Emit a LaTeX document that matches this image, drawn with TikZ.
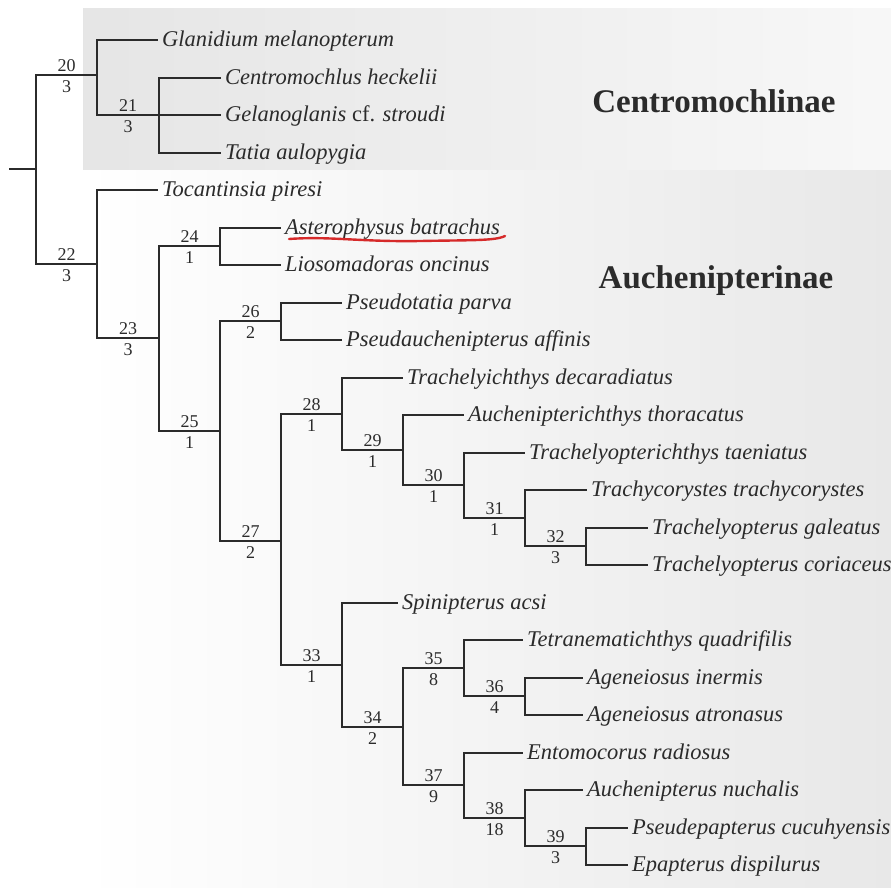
\documentclass[tikz,border=0pt]{standalone}
\usepackage{fontspec}
\setmainfont{Liberation Serif}
\usetikzlibrary{calc}
\newcommand{\tipfont}{\fontsize{22.5}{27}\selectfont\itshape}
\newcommand{\numfont}{\fontsize{18}{21}\selectfont}
\newcommand{\cladefont}{\fontsize{33}{38}\selectfont\bfseries}
\definecolor{inkgray}{HTML}{2B2B2B}
\definecolor{marker}{HTML}{D62A2A}
\tikzset{
	branch/.style={line width=2pt, draw=inkgray, line cap=rect},
	taxon/.style={anchor=west, inner xsep=5pt, inner ysep=0pt, text height=16pt, text depth=3pt, font=\tipfont, text=inkgray},
	bnum/.style={pos=0.75, above, inner sep=2.5pt, font=\numfont, text=inkgray},
	bsup/.style={pos=0.75, below, inner sep=5pt, font=\numfont, text=inkgray},
	clade/.style={anchor=base, font=\cladefont, text=inkgray}
}

\begin{document}
\begin{tikzpicture}[x=1pt, y=-1pt]
		\useasboundingbox (0,0) rectangle (891,887);
		% shaded subfamily blocks
		\shade[left color=black!10, right color=black!3] (83,8) rectangle (891,169);
		\shade[left color=white, right color=black!9] (83,170) rectangle (891,887);
		\node[clade] (centro) at (714,112) {Centromochlinae};
		\node[clade] (auchen) at (716,288) {Auchenipterinae};
		% taxa
		\node[taxon] (glan) at (157,40) {Glanidium melanopterum};
		\node[taxon] (cent) at (220,77.5) {Centromochlus heckelii};
		\node[taxon] (gela) at (220,115) {Gelanoglanis {\upshape cf.} stroudi};
		\node[taxon] (tati) at (220,152.5) {Tatia aulopygia};
		\node[taxon] (toca) at (157,190) {Tocantinsia piresi};
		\node[taxon] (aste) at (280,227.5) {Asterophysus batrachus};
		\node[taxon] (lios) at (280,265) {Liosomadoras oncinus};
		\node[taxon] (pspa) at (341,302.5) {Pseudotatia parva};
		\node[taxon] (psaf) at (341,340) {Pseudauchenipterus affinis};
		\node[taxon] (trde) at (402,377.5) {Trachelyichthys decaradiatus};
		\node[taxon] (auth) at (463,415) {Auchenipterichthys thoracatus};
		\node[taxon] (trta) at (524,452.5) {Trachelyopterichthys taeniatus};
		\node[taxon] (trtr) at (586,490) {Trachycorystes trachycorystes};
		\node[taxon] (trga) at (647,527.5) {Trachelyopterus galeatus};
		\node[taxon] (trco) at (647,565) {Trachelyopterus coriaceus};
		\node[taxon] (spac) at (397,602.5) {Spinipterus acsi};
		\node[taxon] (tequ) at (522,640) {Tetranematichthys quadrifilis};
		\node[taxon] (agin) at (582,677.5) {Ageneiosus inermis};
		\node[taxon] (agat) at (582,715) {Ageneiosus atronasus};
		\node[taxon] (enra) at (522,752.5) {Entomocorus radiosus};
		\node[taxon] (aunu) at (582,790) {Auchenipterus nuchalis};
		\node[taxon] (pscu) at (627,827.5) {Pseudepapterus cucuhyensis};
		\node[taxon] (epdi) at (627,865) {Epapterus dispilurus};
		% internal nodes
		\coordinate (base) at (10,169);
		\coordinate (root) at (36,169);
		\coordinate (n20) at (97,75);
		\coordinate (n21) at (159,115);
		\coordinate (n22) at (97,264);
		\coordinate (n23) at (159,338);
		\coordinate (n24) at (220,246);
		\coordinate (n25) at (220,431);
		\coordinate (n26) at (281,321);
		\coordinate (n27) at (281,541);
		\coordinate (n28) at (342,414);
		\coordinate (n29) at (403,450);
		\coordinate (n30) at (464,485);
		\coordinate (n31) at (525,518);
		\coordinate (n32) at (586,546);
		\coordinate (n33) at (342,665);
		\coordinate (n34) at (403,727);
		\coordinate (n35) at (464,668);
		\coordinate (n36) at (525,696);
		\coordinate (n37) at (464,785);
		\coordinate (n38) at (525,818);
		\coordinate (n39) at (586,846);
		% branches with node number and support
		\draw[branch] (base) -- (root);
		\draw[branch] (root) |- (n20) node[bnum] {20} node[bsup] {3};
		\draw[branch] (root) |- (n22) node[bnum] {22} node[bsup] {3};
		\draw[branch] (n20) |- (glan.west);
		\draw[branch] (n20) |- (n21) node[bnum] {21} node[bsup] {3};
		\draw[branch] (n21) |- (cent.west);
		\draw[branch] (n21) |- (gela.west);
		\draw[branch] (n21) |- (tati.west);
		\draw[branch] (n22) |- (toca.west);
		\draw[branch] (n22) |- (n23) node[bnum] {23} node[bsup] {3};
		\draw[branch] (n23) |- (n24) node[bnum] {24} node[bsup] {1};
		\draw[branch] (n23) |- (n25) node[bnum] {25} node[bsup] {1};
		\draw[branch] (n24) |- (aste.west);
		\draw[branch] (n24) |- (lios.west);
		\draw[branch] (n25) |- (n26) node[bnum] {26} node[bsup] {2};
		\draw[branch] (n25) |- (n27) node[bnum] {27} node[bsup] {2};
		\draw[branch] (n26) |- (pspa.west);
		\draw[branch] (n26) |- (psaf.west);
		\draw[branch] (n27) |- (n28) node[bnum] {28} node[bsup] {1};
		\draw[branch] (n27) |- (n33) node[bnum] {33} node[bsup] {1};
		\draw[branch] (n28) |- (trde.west);
		\draw[branch] (n28) |- (n29) node[bnum] {29} node[bsup] {1};
		\draw[branch] (n29) |- (auth.west);
		\draw[branch] (n29) |- (n30) node[bnum] {30} node[bsup] {1};
		\draw[branch] (n30) |- (trta.west);
		\draw[branch] (n30) |- (n31) node[bnum] {31} node[bsup] {1};
		\draw[branch] (n31) |- (trtr.west);
		\draw[branch] (n31) |- (n32) node[bnum] {32} node[bsup] {3};
		\draw[branch] (n32) |- (trga.west);
		\draw[branch] (n32) |- (trco.west);
		\draw[branch] (n33) |- (spac.west);
		\draw[branch] (n33) |- (n34) node[bnum] {34} node[bsup] {2};
		\draw[branch] (n34) |- (n35) node[bnum] {35} node[bsup] {8};
		\draw[branch] (n34) |- (n37) node[bnum] {37} node[bsup] {9};
		\draw[branch] (n35) |- (tequ.west);
		\draw[branch] (n35) |- (n36) node[bnum] {36} node[bsup] {4};
		\draw[branch] (n36) |- (agin.west);
		\draw[branch] (n36) |- (agat.west);
		\draw[branch] (n37) |- (enra.west);
		\draw[branch] (n37) |- (n38) node[bnum] {38} node[bsup] {18};
		\draw[branch] (n38) |- (aunu.west);
		\draw[branch] (n38) |- (n39) node[bnum] {39} node[bsup] {3};
		\draw[branch] (n39) |- (pscu.west);
		\draw[branch] (n39) |- (epdi.west);
		% red hand underline
		\draw[marker, line width=2.4pt, line cap=round] (289,239) .. controls (330,236) and (360,242) .. (420,241) .. controls (470,240) and (495,241) .. (505,236);
	\end{tikzpicture}
\end{document}
